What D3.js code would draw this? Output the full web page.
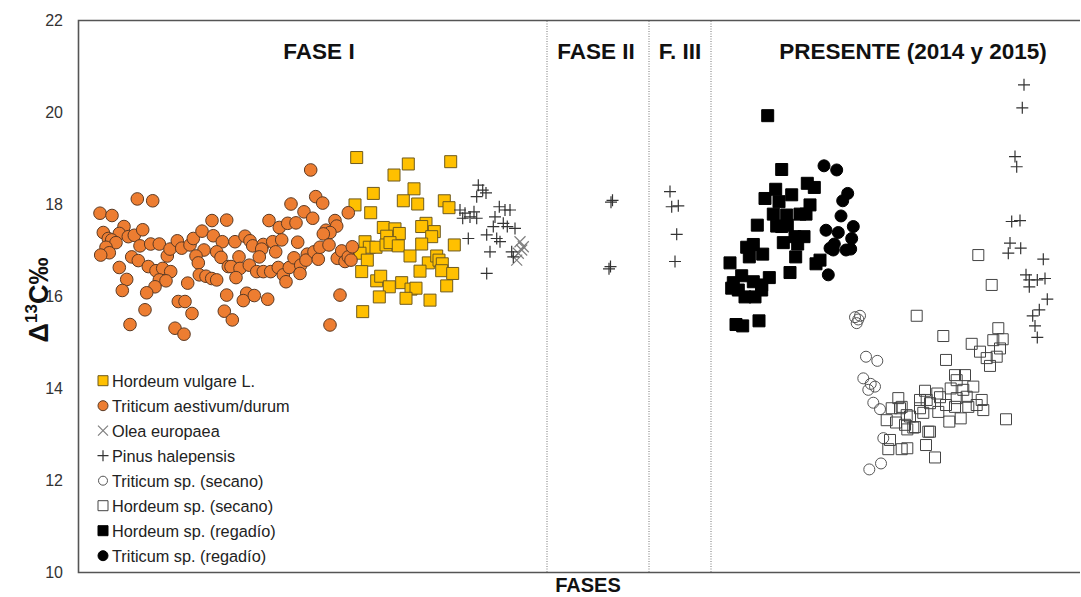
<!DOCTYPE html>
<html>
<head>
<meta charset="utf-8">
<script src="https://cdn.jsdelivr.net/npm/d3@7/dist/d3.min.js"></script>
<style>
  html, body { margin: 0; padding: 0; background: #fff; }
  svg { display: block; font-family: "Liberation Sans", Arial, sans-serif; }
</style>
</head>
<body>
<svg id="chart" width="1081" height="597"></svg>
<script>
// Δ13C (‰) by phase. x = position along the phase axis (0–100), y = Δ13C.
const yTicks = [10, 12, 14, 16, 18, 20, 22];
const phaseBounds = [46.9, 57.1, 63.3];
const phaseLabels = ["FASE I", "FASE II", "F. III", "PRESENTE (2014 y 2015)"];
const phaseLabelPos = [24.1, 51.8, 60.2, 83.5];

const hordeumVulgare = [
  [27.87,19.01],[33.03,18.87],[37.27,18.92],[31.6,18.63],[29.53,18.23],[33.6,18.33],[32.53,18.07],
  [33.97,18.0],[27.7,17.98],[29.27,17.81],[36.63,18.07],[37.1,17.92],[34.8,17.58],[34.37,17.51],
  [35.63,17.4],[35.37,17.29],[30.53,17.49],[31.7,17.46],[32.13,17.36],[30.87,17.3],[28.7,17.18],
  [29.13,17.06],[29.8,17.06],[30.8,17.11],[31.2,17.16],[32.03,17.09],[34.37,17.13],[37.63,17.11],
  [28.2,16.93],[28.93,16.78],[33.2,16.87],[35.03,16.72],[35.87,16.87],[36.1,16.78],[36.43,16.7],
  [34.2,16.54],[36.37,16.55],[37.47,16.49],[28.37,16.53],[29.87,16.33],[30.27,16.43],[31.13,16.2],
  [32.37,16.29],[33.3,16.15],[33.8,16.17],[36.87,16.22],[30.13,15.98],[32.8,15.95],[35.2,15.91],
  [28.47,15.66]
];

const triticumAestivum = [
  [5.93,18.11],[7.47,18.07],[2.2,17.8],[3.4,17.75],[2.53,17.38],[4.6,17.51],[4.13,17.36],[5.03,17.29],
  [5.63,17.32],[6.47,17.44],[3.03,17.25],[3.37,17.22],[3.8,17.16],[2.8,17.06],[3.13,16.94],[2.27,16.89],
  [6.2,17.09],[7.27,17.13],[8.13,17.13],[5.37,16.85],[6.03,16.77],[7.03,16.64],[7.8,16.55],[8.47,16.6],
  [9.27,16.53],[8.13,16.35],[8.8,16.33],[7.7,16.2],[6.87,16.07],[4.13,16.62],[4.87,16.36],[4.43,16.12],
  [6.7,15.7],[5.2,15.38],[10.03,15.88],[10.7,15.88],[9.7,15.3],[10.6,15.17],[11.4,15.62],[10.97,16.28],
  [8.93,16.87],[9.2,17.02],[9.93,17.2],[10.37,17.04],[11.2,17.11],[11.53,17.25],[12.4,17.41],[13.4,17.64],
  [14.87,17.65],[13.53,17.31],[14.43,17.18],[13.87,16.96],[14.3,16.84],[12.6,17.0],[11.8,16.87],
  [12.03,16.72],[12.13,16.46],[12.8,16.43],[13.37,16.38],[13.87,16.35],[15.03,16.64],[14.87,16.02],
  [14.63,15.67],
  [23.27,18.74],[23.77,18.16],[24.47,18.02],[21.3,18.0],[22.6,17.83],[23.47,17.69],[27.03,17.81],
  [19.1,17.64],[20.13,17.49],[20.97,17.58],[21.8,17.59],[25.7,17.64],[25.87,17.52],[24.8,17.43],
  [25.2,17.38],[24.53,17.35],[15.7,17.18],[16.7,17.3],[17.2,17.2],[17.47,17.09],[18.53,17.12],
  [18.37,17.02],[19.47,17.18],[20.37,17.22],[21.97,17.17],[19.77,16.96],[18.13,16.85],[16.1,16.85],
  [15.3,16.64],[16.2,16.6],[17.13,16.67],[15.8,16.4],[17.87,16.53],[18.53,16.53],[19.27,16.53],
  [20.03,16.62],[20.53,16.46],[20.8,16.31],[21.13,16.62],[21.6,16.83],[22.27,16.67],[22.2,16.49],
  [22.93,16.91],[22.8,16.78],[23.6,16.96],[24.03,16.8],[24.2,17.06],[25.1,17.11],[25.93,16.82],
  [26.37,16.98],[26.7,16.75],[27.03,16.85],[27.43,17.07],[27.3,16.78],[26.2,16.02],[25.2,15.37],
  [16.87,16.06],[16.53,15.9],[17.63,16.01],[18.97,15.93],[15.43,15.48]
];

const oleaEuropaea = [
  [44.2,17.18],[44.53,17.07],[44.03,16.93],[43.87,16.78],[44.37,17.0]
];

const pinusHalepensis = [
  // Fase I
  [40.03,18.41],[40.47,18.3],[39.87,18.16],[40.8,18.24],[38.2,17.87],[38.7,17.8],[38.47,17.69],
  [39.2,17.72],[39.6,17.83],[39.87,17.69],[39.03,17.25],[40.87,17.33],[41.53,17.51],[41.7,17.72],
  [42.13,17.94],[42.7,17.87],[43.2,17.87],[42.53,17.58],[42.93,17.51],[43.7,17.47],[41.87,17.25],
  [42.2,17.18],[41.2,16.96],[40.87,16.49],[43.37,16.96],[43.53,16.85],
  // Fase II
  [53.45,18.08],[53.3,18.04],[53.1,16.59],[53.25,16.64],
  // F. III
  [59.2,18.27],[59.37,17.94],[60.03,17.96],[59.87,17.34],[59.7,16.75],
  // Presente
  [94.6,20.59],[94.43,20.09],[93.7,19.03],[93.87,18.81],[93.37,17.62],[94.2,17.64],[93.2,17.15],
  [93.03,16.93],[94.27,17.04],[96.53,16.8],[94.8,16.46],[95.13,16.35],[95.13,16.2],[95.93,16.35],
  [96.7,16.38],[96.93,15.93],[96.13,15.7],[95.47,15.57],[95.7,15.35],[95.93,15.1]
];

const triticumSecano = [
  [77.7,15.54],[78.03,15.49],[77.87,15.41],[78.2,15.57],[78.8,14.68],[79.93,14.59],[78.53,14.21],
  [79.27,14.09],[79.7,14.03],[79.03,13.96],[79.53,13.68],[80.2,13.54],[80.53,12.91],[79.13,12.23],
  [80.3,12.36]
];

const hordeumSecano = [
  [83.87,15.57],[86.53,15.13],[86.8,14.61],[92.03,15.3],[91.53,15.04],[92.47,15.06],[89.37,14.96],
  [90.2,14.79],[92.2,14.86],[90.87,14.65],[91.87,14.68],[91.2,14.48],[92.8,13.32],[87.7,14.28],
  [88.7,14.28],[87.87,14.17],[87.27,13.99],[88.53,13.96],[89.53,14.03],[84.7,13.94],[85.93,13.88],
  [86.2,13.8],[84.2,13.74],[84.87,13.74],[82.03,13.78],[87.87,13.78],[88.87,13.81],[90.37,13.74],
  [86.8,13.63],[87.7,13.59],[89.03,13.59],[89.87,13.63],[90.53,13.52],[84.2,13.56],[86.03,13.48],
  [84.53,13.46],[81.37,13.56],[82.2,13.56],[80.87,13.3],[81.8,13.25],[83.2,13.38],[82.7,13.2],
  [83.7,13.15],[82.93,13.1],[87.13,13.27],[88.27,13.34],[85.03,13.05],[81.2,12.87],[81.03,12.67],
  [82.37,12.67],[82.93,12.69],[84.8,12.76],[85.7,12.49],[90.03,16.89],[91.37,16.24],[82.37,13.59],
  [82.87,13.41],[83.53,13.14],[85.2,13.67],[85.2,13.05]
];

const hordeumRegadio = [
  [68.97,19.92],[70.37,18.75],[72.93,18.45],[73.63,18.36],[69.77,18.32],[71.37,18.2],[68.7,18.12],
  [70.1,18.05],[73.2,17.98],[69.53,17.78],[70.87,17.76],[72.2,17.78],[72.8,17.78],[67.93,17.54],
  [69.87,17.52],[70.37,17.51],[70.93,17.54],[71.7,17.29],[72.6,17.29],[70.53,17.16],[71.97,17.13],
  [66.87,17.06],[67.53,17.12],[67.13,16.85],[68.47,16.91],[65.2,16.72],[71.77,16.85],[74.2,16.78],
  [73.8,16.7],[71.2,16.51],[66.37,16.44],[69.13,16.4],[65.53,16.29],[67.53,16.31],[68.37,16.24],
  [65.37,16.17],[66.7,15.98],[67.7,15.98],[65.8,15.38],[66.47,15.35],[68.1,15.46],[66.03,16.13],
  [68.37,16.13]
];

const triticumRegadio = [
  [74.6,18.83],[75.87,18.74],[76.97,18.23],[76.47,18.07],[76.3,17.74],[77.53,17.51],[74.8,17.43],
  [76.03,17.38],[77.37,17.25],[75.63,17.13],[75.2,17.04],[75.53,17.0],[76.8,17.0],[77.27,17.02],
  [75.03,16.46]
];

const legendNames = [
  "Hordeum vulgare L.", "Triticum aestivum/durum", "Olea europaea", "Pinus halepensis",
  "Triticum sp. (secano)", "Hordeum sp. (secano)", "Hordeum sp. (regadío)", "Triticum sp. (regadío)"
];

// ---- layout ----
const svg = d3.select("#chart");
const plotL = 78, plotR = 1080, plotT = 20, plotB = 572;
const x = d3.scaleLinear().domain([0, 100.2]).range([plotL, plotR]);
const y = d3.scaleLinear().domain([10, 22]).range([plotB, plotT]);

// marker path generators (centred on 0,0)
const sq = s => `M${-s/2},${-s/2}h${s}v${s}h${-s}Z`;
const circ = r => `M${r},0A${r},${r} 0 1,1 ${-r},0A${r},${r} 0 1,1 ${r},0Z`;
const plus = a => `M${-a},0H${a}M0,${-a}V${a}`;
const cross = a => `M${-a},${-a}L${a},${a}M${-a},${a}L${a},${-a}`;

const styles = [
  { data: hordeumVulgare, d: sq(12), fill: "#FFC000", stroke: "#6e5a1e", sw: 1, ld: sq(10) },
  { data: triticumAestivum, d: circ(6.3), fill: "#ED7D31", stroke: "#5b3a24", sw: 1, ld: circ(5) },
  { data: oleaEuropaea, d: cross(5.5), fill: "none", stroke: "#7f7f7f", sw: 1.2, ld: cross(5) },
  { data: pinusHalepensis, d: plus(6), fill: "none", stroke: "#333", sw: 1.2, ld: plus(5.5) },
  { data: triticumSecano, d: circ(5.5), fill: "none", stroke: "#555", sw: 1, ld: circ(4.5) },
  { data: hordeumSecano, d: sq(11), fill: "none", stroke: "#444", sw: 1, ld: sq(10) },
  { data: hordeumRegadio, d: sq(12), fill: "#000", stroke: "#000", sw: 1, ld: sq(10) },
  { data: triticumRegadio, d: circ(6), fill: "#000", stroke: "#000", sw: 1, ld: circ(5) }
];

// frame
svg.append("path")
  .attr("d", `M${plotR},${plotT + 0.5}H${plotL + 0.5}V${plotB + 0.5}H${plotR}`)
  .attr("fill", "none").attr("stroke", "#555").attr("stroke-width", 1.6);

// phase separators
svg.append("g").selectAll("line").data(phaseBounds).join("line")
  .attr("x1", d => x(d)).attr("x2", d => x(d))
  .attr("y1", plotT + 1).attr("y2", plotB)
  .attr("stroke", "#777").attr("stroke-width", 1).attr("stroke-dasharray", "1,1.5");

// y axis
const yAxis = d3.axisLeft(y).tickValues(yTicks).tickSize(0).tickPadding(15);
const gy = svg.append("g").attr("transform", `translate(${plotL},0)`).call(yAxis);
gy.select(".domain").remove();
gy.selectAll("text").attr("font-size", 16).attr("fill", "#333")
  .attr("font-family", "Liberation Sans, Arial, sans-serif");

// phase titles
svg.append("g").selectAll("text").data(phaseLabels).join("text")
  .attr("x", (d, i) => x(phaseLabelPos[i])).attr("y", 59)
  .attr("text-anchor", "middle").attr("font-size", 22.5).attr("font-weight", "bold")
  .attr("fill", "#111").text(d => d);

// axis titles
svg.append("text").attr("x", 588).attr("y", 592).attr("text-anchor", "middle")
  .attr("font-size", 20).attr("font-weight", "bold").attr("fill", "#111").text("FASES");

const yl = svg.append("text").attr("transform", "translate(48,300) rotate(-90)")
  .attr("text-anchor", "middle").attr("font-size", 27).attr("font-weight", "bold").attr("fill", "#111");
yl.append("tspan").text("Δ");
yl.append("tspan").attr("font-size", 17).attr("dy", -11).text("13");
yl.append("tspan").attr("dy", 11).text("C‰");

// points
styles.forEach(s => {
  svg.append("g").selectAll("path").data(s.data).join("path")
    .attr("transform", d => `translate(${x(d[0])},${y(d[1])})`)
    .attr("d", s.d).attr("fill", s.fill).attr("stroke", s.stroke).attr("stroke-width", s.sw);
});

// legend
const lg = svg.append("g");
legendNames.forEach((name, i) => {
  const cy = 380.7 + i * 25;
  const s = styles[i];
  lg.append("path").attr("transform", `translate(103,${cy})`).attr("d", s.ld)
    .attr("fill", s.fill).attr("stroke", s.stroke).attr("stroke-width", s.sw);
  lg.append("text").attr("x", 112).attr("y", cy + 6).attr("font-size", 16.3)
    .attr("fill", "#222").text(name);
});
</script>
</body>
</html>
